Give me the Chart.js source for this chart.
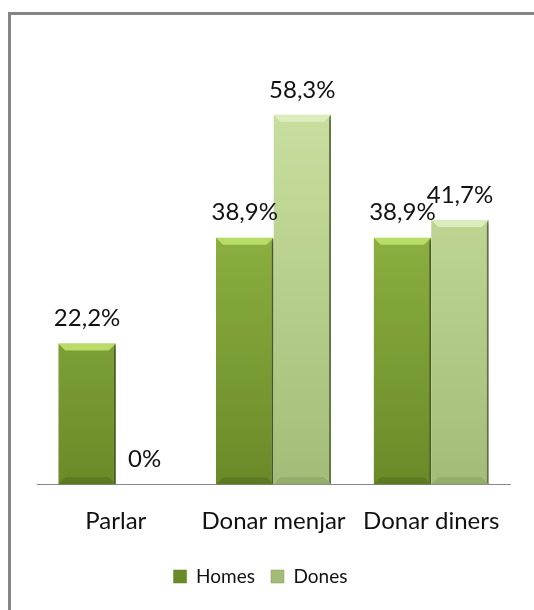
<!DOCTYPE html>
<html>
<head>
<meta charset="utf-8">
<script src="https://cdn.jsdelivr.net/npm/chart.js@4/dist/chart.umd.min.js"></script>
<style>
  body { margin: 0; background: #fff; overflow: hidden; }
  #wrap { position: relative; width: 534px; height: 610px; overflow: hidden; }
  #frameTop { position: absolute; left: 8px; top: 12px; width: 526px; height: 3px; background: #858585; }
  #frameLeft { position: absolute; left: 8px; top: 12px; width: 3px; height: 598px; background: #858585; }
  canvas { position: absolute; left: 0; top: 0; }
</style>
</head>
<body>
<div id="wrap">
  <div id="frameTop"></div>
  <div id="frameLeft"></div>
  <canvas id="chart" width="534" height="610"></canvas>
</div>
<script>
var categories = ['Parlar', 'Donar menjar', 'Donar diners'];
var homes = [22.2, 38.9, 38.9];
var dones = [0, 58.3, 41.7];

var FONT = 'Lato, "Open Sans", sans-serif';
var bevelTop = ['#b8dc66', '#dcedbd'];
var bevelBottom = ['#5c7a22', '#95ad6c'];

function fmt(v) {
    return String(v).replace('.', ',') + '%';
}

function barFill(dark, light) {
    return function(context) {
        var chart = context.chart;
        var area = chart.chartArea;
        if (!area) return light;
        var g = chart.ctx.createLinearGradient(0, area.top, 0, area.bottom);
        g.addColorStop(0, light);
        g.addColorStop(1, dark);
        return g;
    };
}

// shadow under bars, small bevel, value labels above them
var valueLabels = {
    id: 'valueLabels',
    afterLayout: function(chart) {
        // legend sits a little left of centre in the original
        chart.legend.left -= 13;
        chart.legend.right -= 13;
    },
    beforeDatasetsDraw: function(chart) {
        chart.ctx.save();
        chart.ctx.shadowColor = 'rgba(0,0,0,0.3)';
        chart.ctx.shadowBlur = 4;
        chart.ctx.shadowOffsetX = 3;
        chart.ctx.shadowOffsetY = 3;
    },
    afterDatasetsDraw: function(chart) {
        var ctx = chart.ctx;
        ctx.restore();
        ctx.save();
        chart.data.datasets.forEach(function(ds, i) {
            chart.getDatasetMeta(i).data.forEach(function(bar) {
                var h = bar.base - bar.y;
                if (h < 12) return;
                var l = bar.x - bar.width / 2, r = bar.x + bar.width / 2, b = 7;
                ctx.fillStyle = bevelTop[i];
                ctx.beginPath();
                ctx.moveTo(l, bar.y); ctx.lineTo(r, bar.y);
                ctx.lineTo(r - b, bar.y + b); ctx.lineTo(l + b, bar.y + b);
                ctx.closePath(); ctx.fill();
                ctx.fillStyle = bevelBottom[i];
                ctx.beginPath();
                ctx.moveTo(l, bar.base); ctx.lineTo(r, bar.base);
                ctx.lineTo(r - b, bar.base - b); ctx.lineTo(l + b, bar.base - b);
                ctx.closePath(); ctx.fill();
            });
        });
        ctx.font = '24px ' + FONT;
        ctx.fillStyle = '#111';
        ctx.textAlign = 'center';
        ctx.textBaseline = 'middle';
        chart.data.datasets.forEach(function(ds, i) {
            chart.getDatasetMeta(i).data.forEach(function(bar, j) {
                ctx.fillText(fmt(ds.data[j]), bar.x, bar.y - 25);
            });
        });
        ctx.restore();
    }
};

new Chart(document.getElementById('chart').getContext('2d'), {
    type: 'bar',
    data: {
        labels: categories,
        datasets: [{
            label: 'Homes',
            data: homes,
            backgroundColor: barFill('#6a8a28', '#9cc24c'),
            borderColor: '#5f7d22',
            borderWidth: { left: 0, right: 2, top: 0, bottom: 0 },
            borderSkipped: false
        }, {
            label: 'Dones',
            data: dones,
            backgroundColor: barFill('#a3bd78', '#c9df9f'),
            borderColor: '#7f9a55',
            borderWidth: { left: 0, right: 2, top: 0, bottom: 0 },
            borderSkipped: false
        }]
    },
    options: {
        responsive: false,
        animation: false,
        layout: { padding: { left: 37, right: 24, top: 104, bottom: 14 } },
        datasets: { bar: { categoryPercentage: 0.73, barPercentage: 1 } },
        scales: {
            x: {
                grid: { display: false },
                border: { display: true, color: '#888', width: 1 },
                ticks: { color: '#111', padding: 15, font: { family: FONT, size: 24 } }
            },
            y: { display: false, min: 0, max: 60 }
        },
        plugins: {
            legend: {
                position: 'bottom',
                labels: {
                    color: '#111',
                    boxWidth: 13,
                    boxHeight: 13,
                    padding: 16,
                    font: { family: FONT, size: 19 }
                }
            },
            tooltip: { enabled: false }
        }
    },
    plugins: [valueLabels]
});
</script>
</body>
</html>
